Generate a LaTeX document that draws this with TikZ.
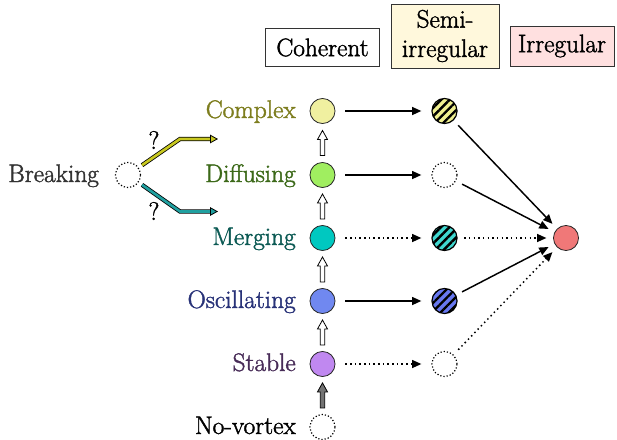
\documentclass[tikz,border=0pt]{standalone}
\usepackage{fontspec}
\setmainfont{Latin Modern Roman}[RawFeature={embolden=1.6}]
\usetikzlibrary{arrows.meta,patterns.meta,calc}
\definecolor{cCx}{RGB}{240,240,160}
\definecolor{cDf}{RGB}{160,238,96}
\definecolor{cMg}{RGB}{0,200,192}
\definecolor{cOs}{RGB}{112,136,240}
\definecolor{cSt}{RGB}{192,136,240}
\definecolor{hCx}{RGB}{240,240,144}
\definecolor{hMg}{RGB}{64,216,208}
\definecolor{hOs}{RGB}{104,120,240}
\definecolor{cIr}{RGB}{240,120,120}
\definecolor{bSemi}{RGB}{255,248,220}
\definecolor{bIrr}{RGB}{255,224,224}
\definecolor{aY}{RGB}{200,200,32}
\definecolor{aT}{RGB}{32,160,160}
\definecolor{tCx}{RGB}{125,125,30}
\definecolor{tDf}{RGB}{60,105,25}
\definecolor{tMg}{RGB}{12,90,84}
\definecolor{tOs}{RGB}{40,50,120}
\definecolor{tSt}{RGB}{72,44,88}
\definecolor{tBr}{RGB}{50,50,50}
\begin{document}
\begin{tikzpicture}[x=0.75pt,y=-0.75pt,
  txt/.style={font=\fontsize{19}{22}\selectfont, inner sep=0pt},
  lbl/.style={txt, anchor=base east},
  boxn/.style={txt, draw=black!80, line width=0.6pt, inner sep=2pt},
  st/.style={circle, draw=black!85, line width=0.6pt, minimum size=18.8pt, inner sep=0pt},
  dotc/.style={st, draw=black, line width=0.9pt, dash pattern=on 0.9pt off 1.5pt},
  hatch/.style={st, draw=black, line width=0.9pt, postaction={pattern={Lines[angle=45,distance=4.5pt,line width=1.8pt]}, pattern color=black}},
  sarr/.style={-{Triangle[length=7pt,width=6pt]}, line width=1.1pt},
  darr/.style={sarr, dash pattern=on 1.1pt off 2.4pt},
  brarr/.style={double=#1, double distance=2pt, line width=0.6pt, line join=miter,
     -{Triangle[length=6pt,width=6.5pt,fill=#1]}},
  uparrow/.pic={\draw[fill=#1, draw=black, line width=0.6pt, line join=miter]
     (-2.2,12.5) -- (-2.2,-3.5) -- (-5,-3.5) -- (0,-12.5) -- (5,-3.5) -- (2.2,-3.5) -- (2.2,12.5) -- cycle;}
]
\useasboundingbox (0,0) rectangle (617,439);

% header boxes
\node[boxn, minimum width=86pt, minimum height=29pt] (coh) at (322.5,47.5) {Coherent};
\node[boxn, fill=bSemi, minimum width=81pt, minimum height=48pt, align=center] (semi) at (445,36) {Semi-\\irregular};
\node[boxn, fill=bIrr, minimum width=78pt, minimum height=30pt] (irrb) at (562,46) {Irregular};

% coherent column
\node[st, fill=cCx] (cx) at (322.5,111) {};
\node[st, fill=cDf] (df) at (322.5,175) {};
\node[st, fill=cMg] (mg) at (322.5,238) {};
\node[st, fill=cOs] (os) at (322.5,301) {};
\node[st, fill=cSt] (sb) at (322.5,364) {};
\node[dotc] (nv) at (322.5,427) {};

% semi-irregular column
\node[hatch, fill=hCx] (hcx) at (444.5,111) {};
\node[dotc] (hdf) at (444.5,175) {};
\node[hatch, fill=hMg] (hmg) at (444.5,238) {};
\node[hatch, fill=hOs] (hos) at (444.5,301) {};
\node[dotc] (hsb) at (444.5,364) {};

% irregular
\node[st, fill=cIr] (ir) at (566,238) {};

% breaking
\node[dotc] (brk) at (128,175) {};

% labels
\node[lbl, text=tCx] (lcx) at (296,118) {Complex};
\node[lbl, text=tDf] (ldf) at (296,182) {Diffusing};
\node[lbl, text=tMg] (lmg) at (296,245) {Merging};
\node[lbl, text=tOs] (los) at (296,308) {Oscillating};
\node[lbl, text=tSt] (lsb) at (296,371) {Stable};
\node[lbl] (lnv) at (296,434) {No-vortex};
\node[txt, anchor=base west, text=tBr] (lbrk) at (8,182) {Breaking};

% vertical arrows
\pic at ($(cx.south)!0.5!(df.north)$) {uparrow=white};
\pic at ($(df.south)!0.5!(mg.north)$) {uparrow=white};
\pic at ($(mg.south)!0.5!(os.north)$) {uparrow=white};
\pic at ($(os.south)!0.5!(sb.north)$) {uparrow=white};
\pic at ($(sb.south)!0.5!(nv.north)$) {uparrow=black!55};

% horizontal arrows
\draw[sarr, shorten <=7.5pt, shorten >=7.5pt] (cx) -- (hcx);
\draw[sarr, shorten <=7.5pt, shorten >=7.5pt] (df) -- (hdf);
\draw[darr, shorten <=7.5pt, shorten >=7.5pt] (mg) -- (hmg);
\draw[sarr, shorten <=7.5pt, shorten >=7.5pt] (os) -- (hos);
\draw[darr, shorten <=7.5pt, shorten >=7.5pt] (sb) -- (hsb);

% to irregular
\draw[sarr, shorten <=5pt, shorten >=5pt] (hcx) -- (ir);
\draw[sarr, shorten <=5pt, shorten >=5pt] (hdf) -- (ir);
\draw[darr, shorten <=5pt, shorten >=5pt] (hmg) -- (ir);
\draw[sarr, shorten <=5pt, shorten >=5pt] (hos) -- (ir);
\draw[darr, shorten <=5pt, shorten >=5pt] (hsb) -- (ir);

% breaking arrows
\coordinate (b1) at (180,139);
\coordinate (e1) at (218,139);
\coordinate (b2) at (180,211.5);
\coordinate (e2) at (218,211.5);
\draw[brarr=aY, shorten <=3pt] (brk.35) -- (b1) -- (e1);
\draw[brarr=aT, shorten <=3pt] (brk.-35) -- (b2) -- (e2);
\node[txt, font=\fontsize{19}{21}\selectfont] (q1) at (154,140) {?};
\node[txt, font=\fontsize{19}{21}\selectfont] (q2) at (154,211) {?};
\end{tikzpicture}
\end{document}
